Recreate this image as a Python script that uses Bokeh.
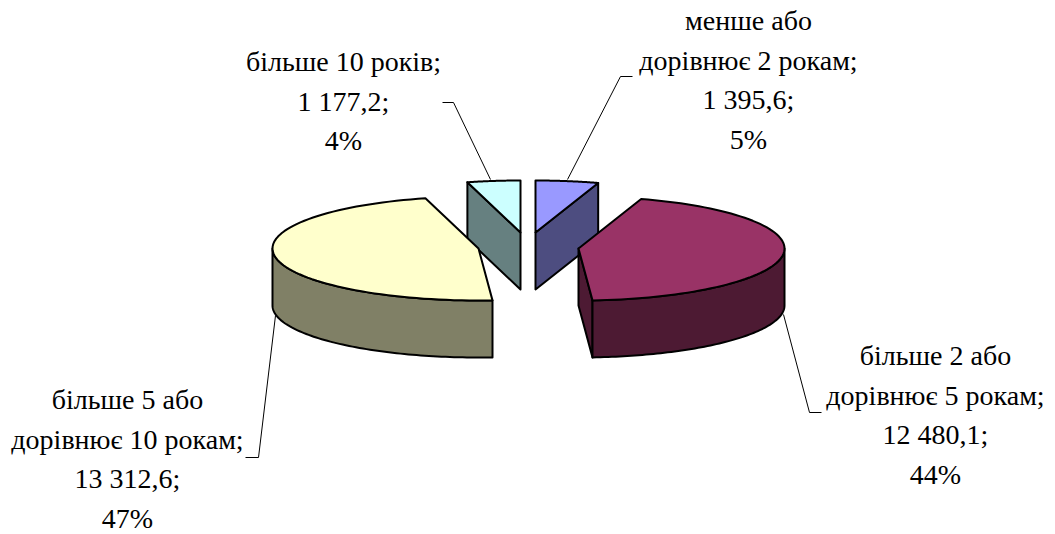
import numpy as np
from bokeh.plotting import figure
from bokeh.embed import file_html
from bokeh.resources import INLINE
from bokeh.core.properties import value

names = [["менше або", "дорівнює 2 рокам;"],
         ["більше 2 або", "дорівнює 5 рокам;"],
         ["більше 5 або", "дорівнює 10 рокам;"],
         ["більше 10 років;"]]
amount_labels = ["1 395,6;", "12 480,1;", "13 312,6;", "1 177,2;"]
amounts = [1395.6, 12480.1, 13312.6, 1177.2]
top_colors = ["#9999FF", "#993366", "#FFFFCC", "#CCFFFF"]
side_colors = ["#4D4D80", "#4D1A33", "#808066", "#668080"]

# layout (page pixels)
WIDTH, HEIGHT = 1055, 534
centers = [(535, 232), (578, 248), (478, 248), (520, 232)]
RX, RY, DEPTH = 206, 52, 57
label_x = [748, 935, 127, 343]
label_y = [20, 355, 399, 61]
LINE_H = 39.6
leaders = [[(567, 179), (620, 76), (632, 76)],
           [(783, 314), (809, 412), (821, 412)],
           [(275, 315), (258, 457), (245, 457)],
           [(490, 179), (453, 102), (442, 102)]]

p = figure(width=WIDTH, height=HEIGHT, x_range=(0, WIDTH), y_range=(HEIGHT, 0),
           toolbar_location=None, output_backend="svg", min_border=0, outline_line_color=None)
p.axis.visible = False
p.grid.visible = False

total = sum(amounts)
edges = np.concatenate([[0], np.cumsum(amounts)]) / total * 2 * np.pi

def pt(c, a, dy=0):
    return c[0] + RX * np.sin(a), c[1] - RY * np.cos(a) + dy

def arc(c, a0, a1, dy=0):
    t = np.linspace(a0, a1, 80)
    return list(c[0] + RX * np.sin(t)), list(c[1] - RY * np.cos(t) + dy)

def face(xs, ys, color):
    p.patch(xs, ys, fill_color=color, line_color="black", line_width=2, line_join="round")

def cut(c, a, color):
    ex, ey = pt(c, a)
    face([c[0], ex, ex, c[0]], [c[1], ey, ey + DEPTH, c[1] + DEPTH], color)

for i in [0, 3, 1, 2]:
    c, top, side = centers[i], top_colors[i], side_colors[i]
    a0, a1 = edges[i], edges[i + 1]
    # radial cut faces that look towards the viewer
    if a1 < np.pi:
        cut(c, a1, side)
    if a0 > np.pi:
        cut(c, a0, side)
    # outer wall: only the part on the front half of the ellipse
    lo, hi = max(a0, np.pi / 2), min(a1, 3 * np.pi / 2)
    if lo < hi:
        x1, y1 = arc(c, lo, hi)
        x2, y2 = arc(c, lo, hi, DEPTH)
        face(x1 + x2[::-1], y1 + y2[::-1], side)
    x, y = arc(c, a0, a1)
    face([c[0]] + x, [c[1]] + y, top)

for pts in leaders:
    p.line([q[0] for q in pts], [q[1] for q in pts], line_color="black", line_width=1)

for i in range(len(amounts)):
    pct = f"{round(amounts[i] / total * 100)}%"
    lines = names[i] + [amount_labels[i], pct]
    p.text([label_x[i]] * len(lines), [label_y[i] + k * LINE_H for k in range(len(lines))],
           text=lines, text_font=value("Liberation Serif"), text_font_size="28px",
           text_color="black", text_align="center", text_baseline="middle")

open("out.html", "w").write(file_html(p, INLINE))
